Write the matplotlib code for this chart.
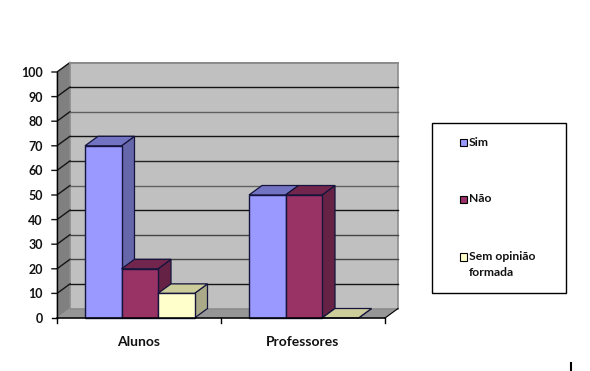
import matplotlib
matplotlib.use("Agg")
import matplotlib.pyplot as plt
from matplotlib.patches import Polygon, Rectangle

plt.rcParams["font.family"] = ["Lato", "DejaVu Sans"]

categories = ["Alunos", "Professores"]
series_names = ["Sim", "Não", "Sem opinião\nformada"]
sim = [70, 50]
nao = [20, 50]
sem_opiniao = [10, 0]
yticks = list(range(0, 101, 10))

W, H = 590, 371
# face, top, side
shades = [
    ("#9999FF", "#7373C4", "#6666AA"),
    ("#993366", "#73264D", "#662244"),
    ("#FFFFCC", "#CDCD9C", "#AAAA88"),
]
# the back wall gridlines are not all equally dark in the picture
grid_colors = {80: "#606060", 60: "#222222", 50: "#606060", 30: "#444444", 20: "#444444"}

fig = plt.figure(figsize=(W / 100, H / 100), dpi=100, facecolor="white")
# front plane of the fake 3D box
ax = fig.add_axes([57 / W, 1 - 318 / H, 328 / W, 246 / H])
ax.set_xlim(0, len(categories))
ax.set_ylim(0, 100)
ax.axis("off")

# depth of the box in data units (13 px across, 9.5 px up)
dx = 13 / 164
dy = 9.5 / 2.46
n = len(categories)
tick_x = 5 / 164

ax.add_patch(Polygon([(0, 0), (dx, dy), (dx, 100 + dy), (0, 100)], fc="#808080",
                     ec="#808080", lw=0.5, clip_on=False, zorder=1))
ax.add_patch(Polygon([(0, 0), (n, 0), (n + dx, dy), (dx, dy)], fc="#969696",
                     ec="#969696", lw=0.5, clip_on=False, zorder=1))
ax.add_patch(Rectangle((dx, dy), n, 100, fc="#C0C0C0", ec="#8C8C8C", lw=1.2,
                       clip_on=False, zorder=1))

for t in yticks[1:]:
    ax.plot([-tick_x, 0, dx], [t, t, t + dy], color="#141414", lw=1.0,
            clip_on=False, zorder=2, solid_joinstyle="miter")
    if t == 100:
        ax.plot([dx, n + dx], [t + dy, t + dy], color="#8C8C8C", lw=1.4,
                clip_on=False, zorder=2)
    else:
        ax.plot([dx, n + dx], [t + dy, t + dy], color=grid_colors.get(t, "#141414"),
                lw=1.0, clip_on=False, zorder=2)

# axis lines and ticks on the front plane
ax.plot([0, 0], [0, 100], color="black", lw=1, clip_on=False, zorder=2)
ax.plot([0, n], [0, 0], color="black", lw=1.1, clip_on=False, zorder=5)
ax.plot([-tick_x, 0], [0, 0], color="black", lw=1, clip_on=False, zorder=5)
for i in range(n + 1):
    ax.plot([i, i], [0, -2.2], color="black", lw=1, clip_on=False, zorder=5)
ax.plot([n, n + dx], [0, dy], color="black", lw=0.8, clip_on=False, zorder=2)

for t in yticks:
    ax.text(-14 / 164, t, str(t), ha="right", va="center_baseline", fontsize=9,
            fontweight="bold", color="#111111")
for i, c in enumerate(categories):
    ax.text(i + 0.5, -9.6, c, ha="center", va="center", fontsize=10,
            fontweight="bold", color="#111111")

# bars, back to front
gap = 28 / 164
bw = 36.5 / 164
edge = "#14143C"
z = 3.0
for i in range(n):
    for s, values in enumerate([sim, nao, sem_opiniao]):
        v = values[i]
        x0 = i + gap + s * bw
        face, top, side = shades[s]
        ax.add_patch(Polygon([(x0 + bw, 0), (x0 + bw + dx, dy), (x0 + bw + dx, v + dy),
                              (x0 + bw, v)], fc=side, ec=edge, lw=0.9, clip_on=False,
                             zorder=z))
        ax.add_patch(Polygon([(x0, v), (x0 + bw, v), (x0 + bw + dx, v + dy), (x0 + dx, v + dy)],
                             fc=top, ec=edge, lw=0.9, clip_on=False, zorder=z))
        if v > 0:
            ax.add_patch(Rectangle((x0, 0), bw, v, fc=face, ec=edge, lw=1.0,
                                   clip_on=False, zorder=z + 0.1))
        z += 0.2

# legend box, drawn by hand to keep the wide spacing
lax = fig.add_axes([0, 0, 1, 1])
lax.set_xlim(0, W)
lax.set_ylim(H, 0)
lax.axis("off")
lax.patch.set_alpha(0)
lax.add_patch(Rectangle((431.5, 122.5), 134.5, 170, fc="white", ec="black", lw=1))
legend_y = [142.5, 199.5, 257]
for name, ly, sh in zip(series_names, legend_y, shades):
    lax.add_patch(Rectangle((459.5, ly - 4), 7.5, 7.5, fc=sh[0], ec="black", lw=0.8))
    first, *rest = name.split("\n")
    lax.text(469, ly - 0.5, first, ha="left", va="center", fontsize=8.7,
             fontweight="bold", color="#111111")
    for line in rest:
        lax.text(469, ly + 15.5, line, ha="left", va="center", fontsize=8.7,
                 fontweight="bold", color="#111111")

# stray tick at the bottom edge of the picture
lax.plot([571, 571], [363, 371], color="black", lw=1.5)

fig.savefig("out.png", dpi=100)
